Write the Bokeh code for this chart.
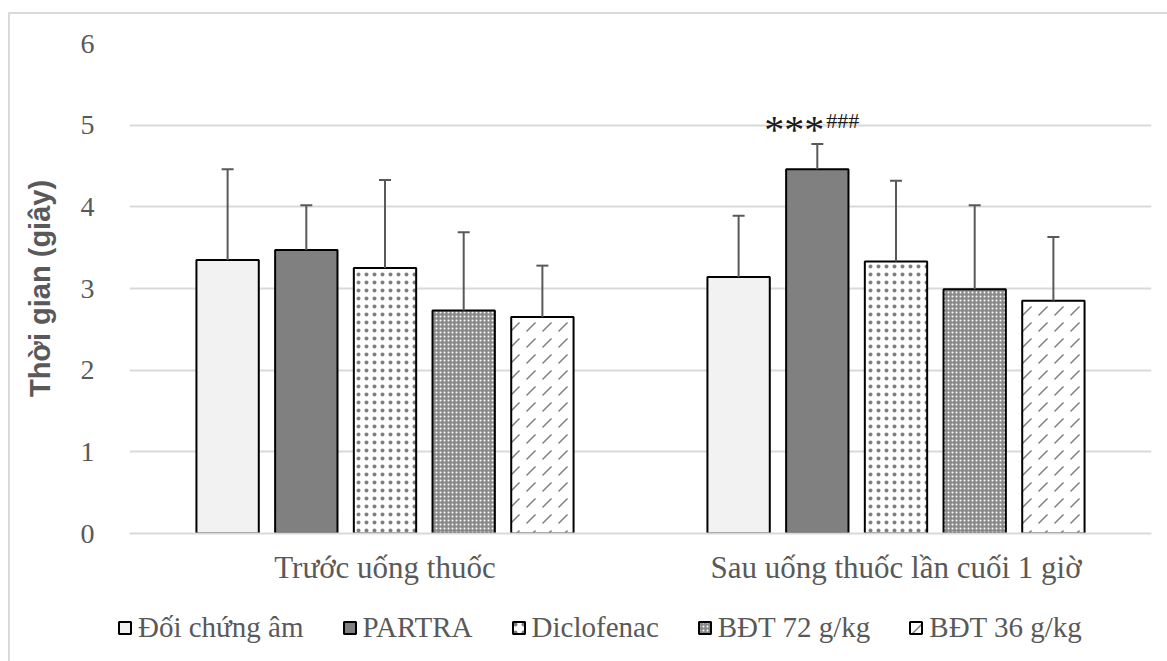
from bokeh.plotting import figure
from bokeh.layouts import column, row
from bokeh.models import (ColumnDataSource, Whisker, TeeHead, Legend, LegendItem,
                          Range1d, FactorRange, InlineStyleSheet)
from bokeh.transform import dodge
from bokeh.core.properties import value
from bokeh.embed import file_html
from bokeh.resources import INLINE

# Groups on the x axis
categories = ["Trước uống thuốc", "Sau uống thuốc lần cuối 1 giờ"]

# Treatment groups (legend order)
series_names = ["Đối chứng âm", "PARTRA", "Diclofenac", "BĐT 72 g/kg", "BĐT 36 g/kg"]

# Mean time (seconds) per treatment group, one value per x category
mean_control = [3.35, 3.14]
mean_partra = [3.47, 4.46]
mean_diclofenac = [3.25, 3.33]
mean_bdt72 = [2.73, 2.99]
mean_bdt36 = [2.65, 2.85]

# Standard deviations (upper error bars)
sd_control = [1.11, 0.75]
sd_partra = [0.55, 0.31]
sd_diclofenac = [1.08, 0.99]
sd_bdt72 = [0.96, 1.03]
sd_bdt36 = [0.63, 0.78]

y_ticks = [0, 1, 2, 3, 4, 5, 6]

# Significance mark for PARTRA after treatment
sig_main = "***"
sig_sup = "###"
sig_series = 1
sig_category = 1

means = [mean_control, mean_partra, mean_diclofenac, mean_bdt72, mean_bdt36]
sds = [sd_control, sd_partra, sd_diclofenac, sd_bdt72, sd_bdt36]

GRID = "#d9d9d9"
TEXT = "#595959"
SERIF = "Liberation Serif"

# bar styling: fill, hatch
styles = [
    dict(fill_color="#f2f2f2"),
    dict(fill_color="#808080"),
    dict(fill_color="white", hatch_pattern="dot", hatch_color="#808080",
         hatch_scale=8, hatch_weight=1),
    dict(fill_color="#8a8a8a", hatch_pattern="dot", hatch_color="white",
         hatch_scale=4, hatch_weight=1.5),
    dict(fill_color="white", hatch_pattern="right_diagonal_dash", hatch_color="#808080",
         hatch_scale=16, hatch_weight=1.5),
]

offsets = [-0.308, -0.154, 0.0, 0.154, 0.308]
bar_width = 0.122

p = figure(
    x_range=FactorRange(*categories, range_padding=0.0),
    y_range=Range1d(0, 6),
    width=1159, height=588,
    output_backend="svg", toolbar_location=None,
    min_border_left=119, min_border_right=18,
    min_border_top=29, min_border_bottom=69,
)
p.stylesheets = [InlineStyleSheet(css=":host { border-top: 2px solid #d9d9d9; border-left: 2px solid #d9d9d9; box-sizing: border-box; }")]

p.outline_line_color = None
p.background_fill_color = "white"
p.border_fill_color = "white"

for i, name in enumerate(series_names):
    src = ColumnDataSource(dict(
        cat=categories,
        mean=means[i],
        upper=[m + s for m, s in zip(means[i], sds[i])],
    ))
    p.vbar(x=dodge("cat", offsets[i], range=p.x_range), top="mean", width=bar_width,
           source=src, line_color="black", line_width=2, **styles[i])
    w = Whisker(base=dodge("cat", offsets[i], range=p.x_range), lower="mean", upper="upper",
                source=src, line_color=TEXT, line_width=2, dimension="height",
                upper_head=TeeHead(size=12, line_color=TEXT, line_width=2),
                lower_head=None, level="glyph")
    p.add_layout(w)

# significance annotation above the PARTRA bar
sig_src = ColumnDataSource(dict(
    cat=[categories[sig_category]],
    y=[means[sig_series][sig_category] + sds[sig_series][sig_category]],
    main=[sig_main], sup=[sig_sup],
))
p.text(x=dodge("cat", offsets[sig_series], range=p.x_range), y="y", text="main", source=sig_src,
       text_font=value(SERIF), text_font_size="40px", text_color="#1a1a1a",
       text_align="right", text_baseline="alphabetic", x_offset=7, y_offset=-14)
p.text(x=dodge("cat", offsets[sig_series], range=p.x_range), y="y", text="sup", source=sig_src,
       text_font=value(SERIF), text_font_size="22px", text_color="#1a1a1a",
       text_align="left", text_baseline="alphabetic", x_offset=9, y_offset=-23)

# axes
p.yaxis.ticker = y_ticks
p.yaxis.axis_line_color = None
p.yaxis.major_tick_line_color = None
p.yaxis.minor_tick_line_color = None
p.yaxis.major_label_text_font = SERIF
p.yaxis.major_label_text_font_size = "28px"
p.yaxis.major_label_text_color = TEXT
p.yaxis.major_label_standoff = 29
p.yaxis.axis_label = "Thời gian (giây)"
p.yaxis.axis_label_text_font = "Liberation Sans"
p.yaxis.axis_label_text_font_style = "bold"
p.yaxis.axis_label_text_font_size = "29px"
p.yaxis.axis_label_text_color = TEXT
p.yaxis.axis_label_standoff = 22

p.xaxis.axis_line_color = GRID
p.xaxis.axis_line_width = 2
p.xaxis.major_tick_line_color = None
p.xaxis.minor_tick_line_color = None
p.xaxis.major_label_text_font = SERIF
p.xaxis.major_label_text_font_size = "31px"
p.xaxis.major_label_text_color = TEXT
p.xaxis.major_label_standoff = 10

p.xgrid.grid_line_color = None
p.ygrid.grid_line_color = GRID
p.ygrid.grid_line_width = 2

# legend strip under the chart
lf = figure(width=1159, height=61, output_backend="svg", toolbar_location=None,
            x_range=Range1d(0, 1), y_range=Range1d(0, 1),
            x_axis_type=None, y_axis_type=None,
            min_border_left=0, min_border_right=0, min_border_top=0, min_border_bottom=0)
lf.stylesheets = [InlineStyleSheet(css=":host { border-left: 2px solid #d9d9d9; box-sizing: border-box; }")]
lf.outline_line_color = None
lf.xgrid.visible = False
lf.ygrid.visible = False

legend_items = []
for i, name in enumerate(series_names):
    # proxy bar kept outside the visible range; only its legend swatch is seen
    r = lf.vbar(x=[5], top=[5], bottom=[4], width=0.1, line_color="black", line_width=2,
                **styles[i])
    legend_items.append(LegendItem(label=name, renderers=[r]))

legend = Legend(items=legend_items, orientation="horizontal", location=(107, 17),
                label_text_font=SERIF, label_text_font_size="29px", label_text_color=TEXT,
                glyph_width=15, glyph_height=15, label_standoff=6, spacing=38,
                padding=0, margin=0, border_line_color=None, background_fill_alpha=0)
lf.add_layout(legend, "center")

layout = column(p, row(lf, spacing=0), spacing=0, margin=(12, 0, 0, 8))

open("out.html", "w").write(file_html(layout, INLINE))
